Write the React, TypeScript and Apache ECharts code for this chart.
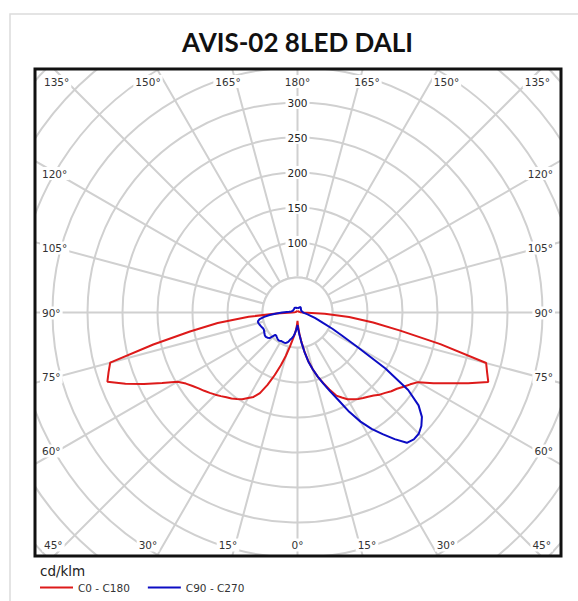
import React, { useEffect, useRef } from 'react';
import * as echarts from 'echarts';

// Photometric data (cd/klm), gamma angle measured from nadir (0°) to zenith (180°)
const gammaAngles = [0, 2.5, 5, 7.5, 10, 12.5, 15, 17.5, 20, 22.5, 25, 27.5, 30, 32.5, 35, 37.5, 40, 42.5, 45, 47.5, 50, 52.5, 55, 57.5, 60, 62.5, 65, 67.5, 70, 72.5, 75, 77.5, 80, 82.5, 85, 87.5, 90, 95, 100, 110, 120, 135, 150, 165, 180];

// C0 half-plane (drawn on the right)
const c0Values = [12, 20, 30, 42, 56, 71, 84, 96, 107, 119, 131, 137, 143, 147, 151, 154, 157, 161, 166, 170, 175, 179, 185, 191, 199, 219, 239, 264, 290, 284, 279, 209, 149, 109, 74, 39, 8, 4, 3, 3, 2, 2, 2, 2, 2];
// C180 half-plane (drawn on the left)
const c180Values = [12, 18, 25, 32, 39, 50, 64, 79, 95, 112, 127, 136, 141, 147, 151, 155, 158, 162, 166, 170, 174, 178, 183, 189, 198, 218, 242, 266, 289, 283, 277, 211, 156, 115, 70, 30, 8, 4, 3, 3, 2, 2, 2, 2, 2];
// C90 half-plane (drawn on the right)
const c90Values = [18, 24, 32, 43, 57, 72, 84, 96, 108, 122, 138, 160, 180, 197, 212, 228, 243, 246, 245, 240, 232, 218, 193, 149, 100, 72, 55, 40, 32, 26, 21, 17, 14, 12, 10, 9, 8, 7, 7, 6, 6, 7, 9, 7, 6];
// C270 half-plane (drawn on the left)
const c270Values = [18, 22, 26, 31, 35, 38, 40, 44, 46, 47, 47, 47, 47, 48, 48, 47, 46, 45, 45, 54, 56, 57, 57, 56, 55, 54, 54, 55, 56, 57, 58, 58, 55, 48, 40, 30, 22, 12, 9, 7, 7, 7, 8, 7, 6];

const seriesNames = ['C0 - C180', 'C90 - C270'];
const seriesColors = ['#dd1a1a', '#0c0cc4'];
const radiusLabelValues = [100, 150, 200, 250, 300];
const titleText = 'AVIS-02 8LED DALI';
const unitText = 'cd/klm';

const topLabels = ['135°', '150°', '165°', '180°', '165°', '150°', '135°'];
const bottomLabels = ['45°', '30°', '15°', '0°', '15°', '30°', '45°'];
const sideLabels = ['120°', '105°', '90°', '75°', '60°'];

// Build polar data: angle axis value 0 at top, increasing clockwise.
// Right half: phi = 180 - gamma ; left half: phi = 180 + gamma
function buildLoop(right: number[], left: number[]) {
  const pts: [number, number][] = [];
  for (let i = gammaAngles.length - 1; i >= 0; i--) pts.push([right[i], 180 - gammaAngles[i]]);
  for (let i = 0; i < gammaAngles.length; i++) pts.push([left[i], 180 + gammaAngles[i]]);
  return pts;
}

const FONT = 'DejaVu Sans';
const LABEL_COLOR = '#333';
const GRID_COLOR = '#d0d0d0';

const CX = 297.5;
const CY = 312.5;
const R_MAX = 385; // radius for value 550
const INNER_R = (R_MAX * 50) / 550;

export default function App() {
  const ref = useRef<HTMLDivElement>(null);
  useEffect(() => {
    if (!ref.current) return;
    const chart = echarts.init(ref.current, null, { renderer: 'svg' });

    const topX = [42, 148, 228, 297.5, 367, 446.5, 552];
    const bottomX = [42, 148, 228, 297.5, 367, 446, 553];
    const sideY = [173.5, 248, 313, 377, 451];

    const labelStyle = (text: string, x: number, y: number, align: string) => ({
      type: 'text',
      z: 110,
      x,
      y,
      style: {
        text,
        fill: LABEL_COLOR,
        font: `10.5px "${FONT}"`,
        align,
        verticalAlign: 'middle',
        backgroundColor: '#fff',
        padding: [1, 2],
      },
    });

    const angleLabelEls: any[] = [];
    topLabels.forEach((t, i) => {
      const align = i === 0 ? 'left' : i === topLabels.length - 1 ? 'right' : 'center';
      angleLabelEls.push(labelStyle(t, topX[i], 81.5, align));
    });
    bottomLabels.forEach((t, i) => {
      const align = i === 0 ? 'left' : i === bottomLabels.length - 1 ? 'right' : 'center';
      angleLabelEls.push(labelStyle(t, bottomX[i], 545, align));
    });
    sideLabels.forEach((t, i) => {
      angleLabelEls.push(labelStyle(t, 40, sideY[i], 'left'));
      angleLabelEls.push(labelStyle(t, 555, sideY[i], 'right'));
    });

    const mask = (x: number, y: number, w: number, h: number) => ({
      type: 'rect',
      z: 100,
      shape: { x, y, width: w, height: h },
      style: { fill: '#fff' },
      silent: true,
    });

    chart.setOption({
      animation: false,
      backgroundColor: '#fff',
      polar: {
        center: [CX, CY],
        radius: [0, R_MAX],
      },
      angleAxis: {
        type: 'value',
        min: 0,
        max: 360,
        interval: 15,
        startAngle: 90,
        clockwise: true,
        axisLine: { show: false },
        axisTick: { show: false },
        axisLabel: { show: false },
        splitLine: { show: true, lineStyle: { color: GRID_COLOR, width: 2 } },
      },
      radiusAxis: {
        type: 'value',
        min: 0,
        max: 550,
        interval: 50,
        axisLine: { show: false },
        axisTick: { show: false },
        splitLine: { show: true, lineStyle: { color: GRID_COLOR, width: 2 } },
        axisLabel: {
          margin: 0,
          align: 'center',
          verticalAlign: 'middle',
          color: '#222',
          fontFamily: FONT,
          fontSize: 10.5,
          backgroundColor: '#fff',
          padding: [1, 2],
          formatter: (v: number) => (radiusLabelValues.includes(v) ? String(v) : ''),
        },
      },
      legend: {
        z: 110,
        left: 40,
        top: 582,
        padding: 0,
        icon: 'rect',
        itemWidth: 33,
        itemHeight: 2,
        itemGap: 18,
        textStyle: { fontFamily: FONT, fontSize: 10.5, color: LABEL_COLOR },
        data: seriesNames,
      },
      series: [
        {
          name: seriesNames[0],
          type: 'line',
          coordinateSystem: 'polar',
          data: buildLoop(c0Values, c180Values),
          showSymbol: false,
          symbol: 'none',
          clip: false,
          lineStyle: { color: seriesColors[0], width: 2 },
          itemStyle: { color: seriesColors[0] },
          z: 3,
        },
        {
          name: seriesNames[1],
          type: 'line',
          coordinateSystem: 'polar',
          data: buildLoop(c90Values, c270Values),
          showSymbol: false,
          symbol: 'none',
          clip: false,
          lineStyle: { color: seriesColors[1], width: 2 },
          itemStyle: { color: seriesColors[1] },
          z: 4,
        },
      ],
      graphic: {
        elements: [
          {
            type: 'circle',
            z: 1,
            shape: { cx: CX, cy: CY, r: INNER_R },
            style: { fill: '#fff', stroke: GRID_COLOR, lineWidth: 2 },
            silent: true,
          },
          mask(0, 0, 578, 69),
          mask(0, 556, 578, 45),
          mask(0, 0, 35, 601),
          mask(561, 0, 17, 601),
          {
            type: 'rect',
            z: 105,
            shape: { x: 10, y: 14, width: 700, height: 700 },
            style: { fill: 'none', stroke: '#dcdcdc', lineWidth: 1.5 },
            silent: true,
          },
          {
            type: 'rect',
            z: 106,
            shape: { x: 35, y: 69, width: 526, height: 487 },
            style: { fill: 'none', stroke: '#111', lineWidth: 3 },
            silent: true,
          },
          {
            type: 'text',
            z: 110,
            x: 297.5,
            y: 42,
            style: {
              text: titleText,
              fill: '#111',
              font: 'bold 26px "Lato"',
              align: 'center',
              verticalAlign: 'middle',
            },
          },
          {
            type: 'text',
            z: 110,
            x: 40,
            y: 571,
            style: {
              text: unitText,
              fill: '#222',
              font: `13.5px "${FONT}"`,
              align: 'left',
              verticalAlign: 'middle',
            },
          },
          ...angleLabelEls,
        ],
      },
    });
    return () => chart.dispose();
  }, []);
  return (
    <div
      ref={ref}
      style={{ position: 'fixed', left: 0, top: 0, width: 578, height: 601, background: '#fff' }}
    />
  );
}
